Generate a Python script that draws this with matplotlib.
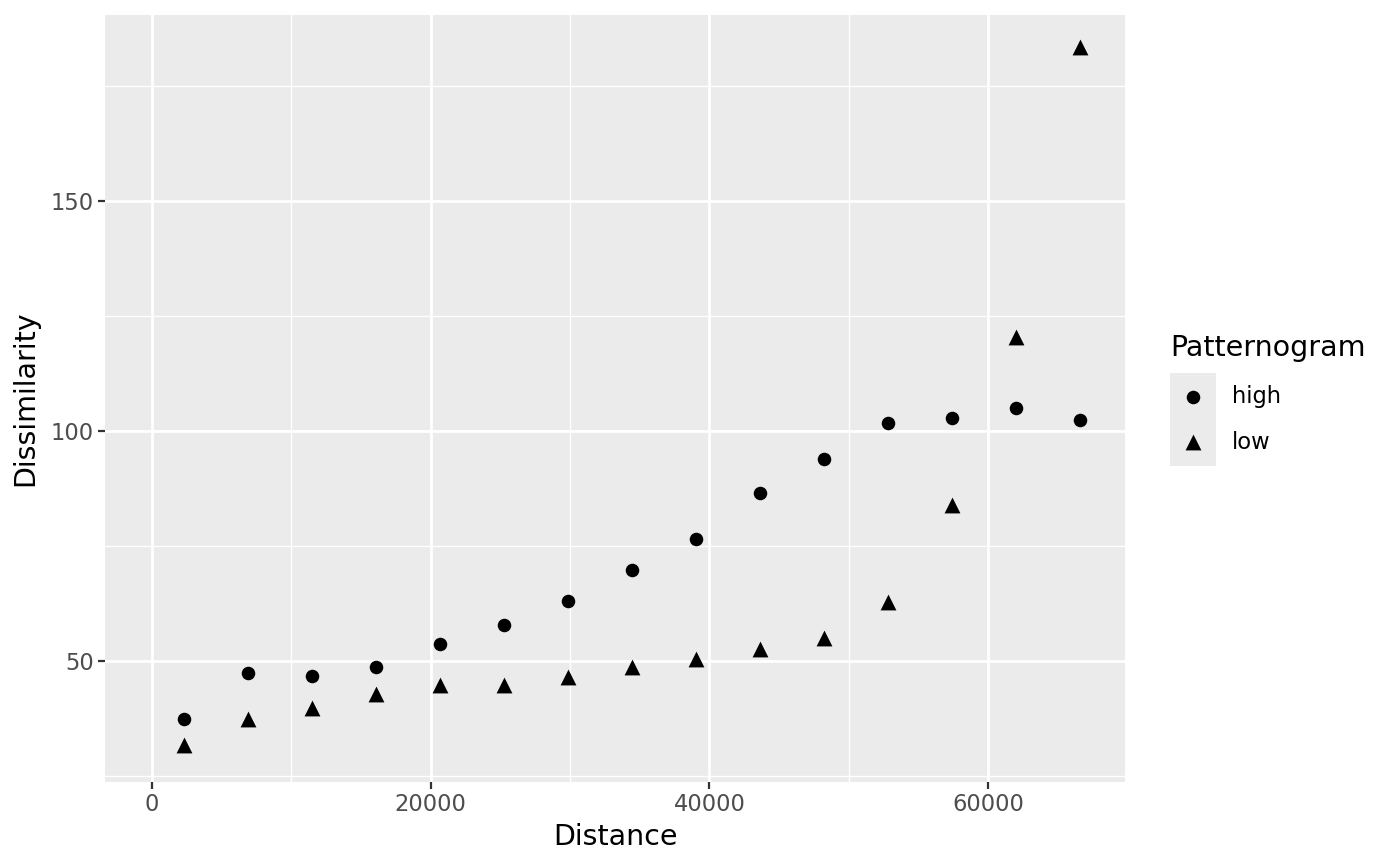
import numpy as np
import matplotlib.pyplot as plt
from matplotlib.ticker import MultipleLocator

# lag distances and dissimilarity for the two patternograms
distance = [2300, 6890, 11480, 16080, 20670, 25260, 29850, 34440,
            39040, 43630, 48220, 52810, 57400, 62000, 66590]
high = [37.4, 47.2, 46.7, 48.7, 53.7, 57.8, 63.0, 69.6,
        76.5, 86.5, 93.9, 101.7, 102.8, 105.0, 102.4]
low = [31.7, 37.4, 39.8, 42.8, 44.6, 44.6, 46.5, 48.7,
       50.4, 52.6, 55.0, 62.8, 83.9, 120.4, 183.5]
groups = ['high', 'low']
shapes = ['o', '^']
sizes = [95, 130]

fig = plt.figure(figsize=(14, 8.66), dpi=100)
ax = fig.add_axes([0.075, 0.0970, 0.7286, 0.8857])
ax.set_facecolor('#EBEBEB')
for s in ax.spines.values():
    s.set_visible(False)

for vals, m, sz, g in zip([high, low], shapes, sizes, groups):
    ax.scatter(distance, vals, marker=m, s=sz, color='black', label=g, zorder=3, linewidths=0)

ax.set_xlim(-3373, 69825)
ax.set_ylim(23.6, 190.4)
ax.xaxis.set_major_locator(MultipleLocator(20000))
ax.xaxis.set_minor_locator(MultipleLocator(10000))
ax.yaxis.set_major_locator(MultipleLocator(50))
ax.yaxis.set_minor_locator(MultipleLocator(25))
ax.grid(which='major', color='white', lw=2.0)
ax.grid(which='minor', color='white', lw=1.0)
ax.set_axisbelow(True)
ax.tick_params(which='major', length=5, width=1.6, color='#333333',
               labelsize=16.3, labelcolor='#4D4D4D', pad=3)
ax.tick_params(which='minor', length=0)

ax.set_xlabel('Distance', fontsize=20.5, labelpad=5)
ax.set_ylabel('Dissimilarity', fontsize=20.5, labelpad=8)

# legend drawn as a small key panel
kax = fig.add_axes([1170 / 1400, (866 - 466) / 866, 46 / 1400, 93 / 866])
kax.set_facecolor('#EBEBEB')
kax.set_xlim(0, 1)
kax.set_ylim(0, 1)
kax.set_xticks([])
kax.set_yticks([])
for s in kax.spines.values():
    s.set_visible(False)
key_y = [0.742, 0.258]
for g, m, sz, ky in zip(groups, shapes, sizes, key_y):
    kax.scatter([0.5], [ky], marker=m, s=sz, color='black', linewidths=0)
    fig.text(1232 / 1400, (866 - 466 + ky * 93) / 866, g, fontsize=16.3,
             ha='left', va='center')
fig.text(1170 / 1400, (866 - 348) / 866, 'Patternogram', fontsize=20.5,
         ha='left', va='center')

fig.savefig('out.png', dpi=100)
